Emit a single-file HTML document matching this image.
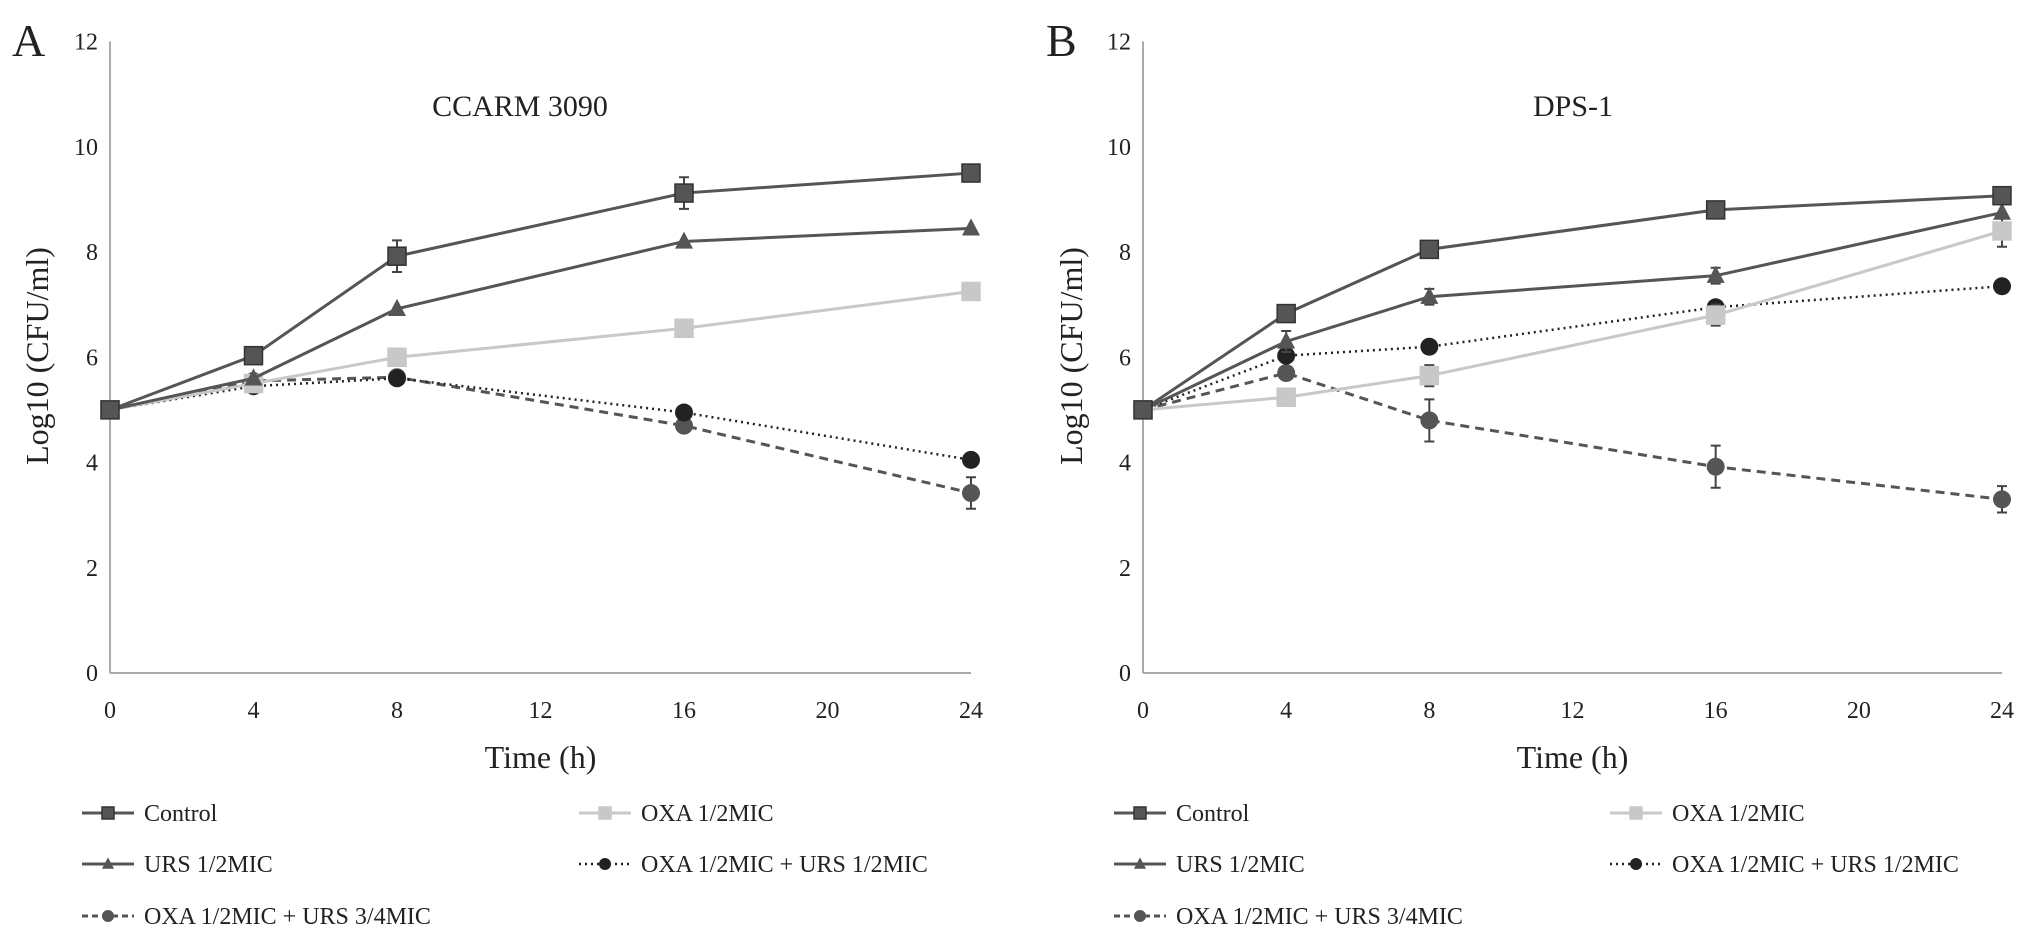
<!DOCTYPE html>
<html><head><meta charset="utf-8"><style>
html,body{margin:0;padding:0;background:#fff;}
svg{display:block;font-family:"Liberation Serif",serif;}
</style></head><body>
<svg id="chart" width="2031" height="939" viewBox="0 0 2031 939" xmlns="http://www.w3.org/2000/svg"></svg>
<script>
const times = [0, 4, 8, 16, 24];
const xTicks = [0, 4, 8, 12, 16, 20, 24];
const yTicks = [0, 2, 4, 6, 8, 10, 12];
const seriesNames = ["Control", "OXA 1/2MIC", "URS 1/2MIC", "OXA 1/2MIC + URS 1/2MIC", "OXA 1/2MIC + URS 3/4MIC"];
const aControl = [5, 6.03, 7.92, 9.12, 9.5];
const aOxa = [5, 5.5, 6.0, 6.55, 7.25];
const aUrs = [5, 5.6, 6.92, 8.2, 8.45];
const aOxaUrs12 = [5, 5.45, 5.6, 4.95, 4.05];
const aOxaUrs34 = [5, 5.55, 5.62, 4.7, 3.42];
const aControlErr = [0, 0, 0.3, 0.3, 0];
const aOxaUrs34Err = [0, 0, 0, 0, 0.3];
const bControl = [5, 6.83, 8.05, 8.8, 9.07];
const bOxa = [5, 5.24, 5.65, 6.8, 8.4];
const bUrs = [5, 6.3, 7.15, 7.55, 8.75];
const bOxaUrs12 = [5, 6.03, 6.2, 6.95, 7.35];
const bOxaUrs34 = [5, 5.7, 4.8, 3.92, 3.3];
const bOxaErr = [0, 0, 0.2, 0.2, 0.3];
const bUrsErr = [0, 0.2, 0.15, 0.15, 0];
const bOxaUrs34Err = [0, 0, 0.4, 0.4, 0.25];

const NS = "http://www.w3.org/2000/svg";
const svg = document.getElementById("chart");
function mk(tag, attrs, parent, text) {
  const e = document.createElementNS(NS, tag);
  for (const k in attrs) e.setAttribute(k, attrs[k]);
  if (text !== undefined) e.textContent = text;
  (parent || svg).appendChild(e);
  return e;
}
const styles = [
  {color:"#555", dash:null, marker:"square", w:3},
  {color:"#c8c8c8", dash:null, marker:"square", w:3},
  {color:"#555", dash:null, marker:"triangle", w:3},
  {color:"#222", dash:"2,4", marker:"circle", w:2.5},
  {color:"#555", dash:"9,6", marker:"circle", w:3}
];
function marker(g, type, cx, cy, color, s) {
  let m;
  if (type === "square") m = mk("rect", {x:cx-s, y:cy-s, width:2*s, height:2*s, fill:color, stroke:type==="square"&&color==="#555"?"#333":color, "stroke-width":1.5}, g);
  else if (type === "triangle") m = mk("polygon", {points:`${cx},${cy-s*1.1} ${cx-s},${cy+s*0.8} ${cx+s},${cy+s*0.8}`, fill:color}, g);
  else m = mk("circle", {cx:cx, cy:cy, r:s, fill:color}, g);
  return m;
}
function panel(opt) {
  const x0 = opt.x0, x1 = opt.x1, yTop = 41.5, yBot = 673;
  const X = t => x0 + (t / 24) * (x1 - x0);
  const Y = v => yBot - (v / 12) * (yBot - yTop);
  const g = mk("g", {});
  
  
  const ya = mk("line", {x1:x0, y1:yTop, x2:x0, y2:yBot, stroke:"#aaa", "stroke-width":2}, g);
  
  
  const xa = mk("line", {x1:x0, y1:yBot, x2:x1, y2:yBot, stroke:"#aaa", "stroke-width":2}, g);
  
  
  yTicks.forEach(v => {
    const t = mk("text", {x:x0-12, y:Y(v)+8, "text-anchor":"end", "font-size":24, fill:"#222"}, g, String(v));
    
    
  });
  xTicks.forEach(v => {
    const t = mk("text", {x:X(v), y:718, "text-anchor":"middle", "font-size":24, fill:"#222"}, g, String(v));
    
    
  });
  const xt = mk("text", {x:(x0+x1)/2, y:768, "text-anchor":"middle", "font-size":32, fill:"#222"}, g, "Time (h)");
  
  
  const yt = mk("text", {x:0, y:0, "text-anchor":"middle", "font-size":32, fill:"#222", transform:`translate(${opt.ytx},356) rotate(-90)`}, g, "Log10 (CFU/ml)");
  
  
  const ti = mk("text", {x:opt.titleX, y:116, "text-anchor":"middle", "font-size":30, fill:"#222"}, g, opt.title);
  
  
  const pl = mk("text", {x:opt.letterX, y:56, "font-size":46, fill:"#222"}, g, opt.letter);
  
  
  // series: draw in order so control on top
  const order = [4, 3, 1, 2, 0];
  order.forEach(i => {
    const st = styles[i], vals = opt.data[i], errs = opt.errs[i];
    const sg = mk("g", {}, g);
    
    
    const pts = times.map((t, k) => X(t) + "," + Y(vals[k])).join(" ");
    const pa = {points:pts, fill:"none", stroke:st.color, "stroke-width":st.w};
    if (st.dash) pa["stroke-dasharray"] = st.dash;
    const line = mk("polyline", pa, sg);
    
    
    times.forEach((t, k) => {
      if (errs && errs[k] > 0) {
        const cx = X(t);
        const e = mk("path", {d:`M${cx},${Y(vals[k]+errs[k])}V${Y(vals[k]-errs[k])}M${cx-5},${Y(vals[k]+errs[k])}h10M${cx-5},${Y(vals[k]-errs[k])}h10`, stroke:"#444", "stroke-width":2, fill:"none"}, sg);
        
        
      }
      const m = marker(sg, st.marker, X(t), Y(vals[k]), st.color, 9);
      
      
    });
  });
  // legend
  const cols = [opt.legX1, opt.legX2];
  const rows = [813, 864, 916];
  const pos = [[0,0],[1,0],[0,1],[1,1],[0,2]];
  seriesNames.forEach((n, i) => {
    const st = styles[i];
    const lx = cols[pos[i][0]], ly = rows[pos[i][1]];
    const lg = mk("g", {}, g);
    
    
    const la = {x1:lx, y1:ly, x2:lx+52, y2:ly, stroke:st.color, "stroke-width":st.w};
    if (st.dash) la["stroke-dasharray"] = st.dash === "9,6" ? "6,4" : st.dash;
    mk("line", la, lg);
    marker(lg, st.marker, lx+26, ly, st.color, 6);
    mk("text", {x:lx+62, y:ly+8, "font-size":24, fill:"#222"}, lg, n);
  });
}
panel({id:"ccarm-3090", x0:110, x1:971, ytx:48, title:"CCARM 3090", titleX:520, letter:"A", letterX:12, legX1:82, legX2:579,
  data:[aControl, aOxa, aUrs, aOxaUrs12, aOxaUrs34], errs:[aControlErr, null, null, null, aOxaUrs34Err]});
panel({id:"dps-1", x0:1143, x1:2002, ytx:1082, title:"DPS-1", titleX:1573, letter:"B", letterX:1046, legX1:1114, legX2:1610,
  data:[bControl, bOxa, bUrs, bOxaUrs12, bOxaUrs34], errs:[null, bOxaErr, bUrsErr, null, bOxaUrs34Err]});
</script>
</body></html>
